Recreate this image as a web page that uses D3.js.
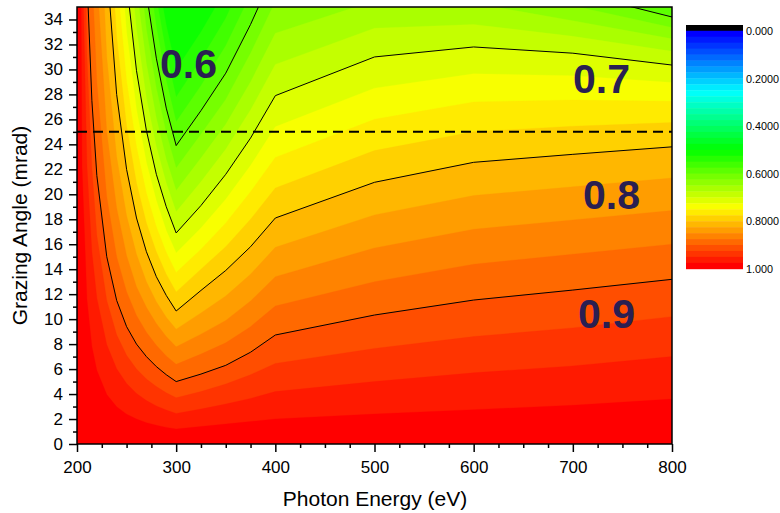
<!DOCTYPE html>
<html>
<head>
<meta charset="utf-8">
<script src="https://cdn.jsdelivr.net/npm/d3@7"></script>
<style>
  body { margin: 0; background: #fff; }
  text { font-family: "Liberation Sans", Arial, sans-serif; }
</style>
</head>
<body>
<svg id="chart" width="780" height="513"></svg>
<script>
// Photon energy nodes (eV) at which each reflectivity contour is sampled
const energies = [200, 205, 210, 215, 220, 230, 240, 250, 260, 270, 280, 290, 300, 325, 350, 375, 400, 500, 600, 700, 800];

// Grazing angle (mrad) at which reflectivity falls to the given level, per energy node
const r975 = [99, 22.3, 11.6, 7.8, 5.9, 3.96, 2.98, 2.39, 2.0, 1.71, 1.5, 1.33, 1.2, 1.4, 1.6, 1.8, 2.0, 2.4, 2.75, 3.1, 3.6];
const r950 = [99, 40.6, 22.3, 15.4, 11.7, 7.96, 6.03, 4.85, 4.05, 3.48, 3.05, 2.72, 2.45, 2.8, 3.2, 3.65, 4.2, 5.0, 5.7, 6.25, 7.0];
const r925 = [99, 53.2, 31.2, 22.1, 16.7, 11.5, 8.75, 7.1, 6.0, 5.2, 4.6, 4.1, 3.7, 4.2, 4.8, 5.55, 6.45, 7.65, 8.6, 9.3, 10.2];
const r900 = [99, 60, 37.5, 27.5, 21.5, 15.0, 11.5, 9.4, 8.0, 7.0, 6.2, 5.55, 5.0, 5.6, 6.3, 7.35, 8.73, 10.33, 11.53, 12.33, 13.19];
const r875 = [99, 94, 54, 38, 29.0, 19.8, 15.0, 12.2, 10.3, 8.95, 7.9, 7.05, 6.38, 7.2, 8.1, 9.4, 11.05, 13.0, 14.4, 15.2, 16.0];
const r850 = [99, 99, 76, 51, 37.5, 25.0, 18.9, 15.1, 12.6, 10.95, 9.65, 8.6, 7.78, 8.8, 9.9, 11.45, 13.4, 15.7, 17.2, 17.95, 18.7];
const r825 = [99, 99, 99, 66.7, 48, 31.0, 23.0, 18.3, 15.2, 13.0, 11.4, 10.15, 9.2, 10.5, 11.85, 13.6, 15.75, 18.35, 19.9, 20.6, 21.3];
const r800 = [99, 99, 99, 86.7, 61.1, 38.4, 28.0, 22.0, 18.1, 15.4, 13.4, 11.9, 10.65, 12.3, 13.9, 15.8, 18.1, 20.96, 22.56, 23.2, 23.8];
const r775 = [99, 99, 99, 99, 74.2, 45.4, 32.6, 25.5, 20.9, 17.7, 15.4, 13.6, 12.18, 14.0, 15.8, 18.0, 20.5, 23.5, 25.0, 25.45, 25.75];
const r750 = [99, 99, 99, 99, 89, 52.8, 37.5, 29.1, 23.8, 20.1, 17.4, 15.35, 13.73, 15.6, 17.7, 20.2, 22.95, 26.0, 27.4, 27.55, 27.45];
const r725 = [99, 99, 99, 99, 99, 61.3, 42.9, 33.0, 26.8, 22.55, 19.5, 17.1, 15.3, 17.3, 19.6, 22.3, 25.4, 28.5, 29.65, 29.5, 28.95];
const r700 = [99, 99, 99, 99, 99, 70.7, 48.6, 37.0, 29.9, 25.1, 21.6, 19.0, 16.9, 19.1, 21.6, 24.5, 27.9, 31.0, 31.8, 31.3, 30.35];
const r675 = [99, 99, 99, 99, 99, 80.3, 54.5, 41.2, 33.2, 27.7, 23.8, 20.9, 18.6, 21.0, 23.6, 26.75, 30.4, 33.3, 33.6, 32.65, 31.45];
const r650 = [99, 99, 99, 99, 99, 91.4, 60.9, 45.7, 36.5, 30.45, 26.1, 22.8, 20.3, 22.9, 25.6, 29.0, 32.9, 35.5, 35.3, 33.9, 32.45];
const r625 = [99, 99, 99, 99, 99, 99, 67.1, 50.1, 40.0, 33.2, 28.5, 24.9, 22.1, 24.8, 27.6, 31.3, 35.45, 37.6, 36.9, 35.1, 33.35];
const r600 = [99, 99, 99, 99, 99, 99, 74, 54.9, 43.6, 36.1, 30.9, 26.9, 23.9, 26.7, 29.7, 33.6, 38.0, 39.6, 38.4, 36.2, 34.2];
const r575 = [99, 99, 99, 99, 99, 99, 99, 59.5, 47.2, 39.1, 33.4, 29.1, 25.8, 28.7, 31.9, 36.0, 40.6, 41.5, 39.9, 37.2, 35.0];
const r550 = [99, 99, 99, 99, 99, 99, 99, 62.6, 50.1, 41.7, 35.75, 31.3, 27.8, 30.8, 34.1, 38.4, 43.2, 43.4, 41.3, 38.2, 35.8];
const r525 = [99, 99, 99, 99, 99, 99, 99, 63.7, 52.0, 43.95, 38.05, 33.55, 30.0, 33.0, 36.4, 40.8, 45.8, 45.3, 42.7, 39.2, 36.6];

// Filled levels, lowest first
const fillLevels = [0.525, 0.55, 0.575, 0.6, 0.625, 0.65, 0.675, 0.7, 0.725, 0.75, 0.775, 0.8, 0.825, 0.85, 0.875, 0.9, 0.925, 0.95, 0.975];
const fillAngles = [r525, r550, r575, r600, r625, r650, r675, r700, r725, r750, r775, r800, r825, r850, r875, r900, r925, r950, r975];

// Contours drawn as lines and their labels
const lineLevels = ["0.6", "0.7", "0.8", "0.9"];
const lineAngles = [r600, r700, r800, r900];
const labelSpots = [[160, 78], [573, 93], [583, 209], [578, 328]];

const xTicks = [200, 300, 400, 500, 600, 700, 800];
const yTicks = d3.range(0, 35, 2);
const barTicks = [0, 0.2, 0.4, 0.6, 0.8, 1.0];
const barTickText = ["0.000", "0.2000", "0.4000", "0.6000", "0.8000", "1.000"];
const referenceAngle = 25;

const nBands = 40;
const step = 1 / nBands;

const svg = d3.select("#chart");
const L = 77, R = 672, T = 7, B = 444;
const x = d3.scaleLinear().domain([200, 800]).range([L, R]);
const y = d3.scaleLinear().domain([0, 35]).range([B, T]);

const cmap = d3.scaleLinear()
  .domain([0, 0.25, 0.5, 0.75, 1])
  .range(["#0000ff", "#00ffff", "#00ff00", "#ffff00", "#ff0000"])
  .interpolate(d3.interpolateRgb);
const bandColor = j => cmap(j / (nBands - 1));

svg.append("defs").append("clipPath").attr("id", "plotClip")
  .append("rect").attr("x", L).attr("y", T).attr("width", R - L).attr("height", B - T);

const plot = svg.append("g").attr("clip-path", "url(#plotClip)");

// background = band just below the lowest filled level
plot.append("rect").attr("x", L).attr("y", T).attr("width", R - L).attr("height", B - T)
  .attr("fill", bandColor(Math.round(fillLevels[0] / step) - 1));

const area = d3.area()
  .x((d, i) => x(energies[i]))
  .y0(y(0))
  .y1(d => y(d));

fillLevels.forEach((lv, k) => {
  plot.append("path")
    .datum(fillAngles[k])
    .attr("d", area)
    .attr("fill", bandColor(Math.round(lv / step)))
    .attr("stroke", bandColor(Math.round(lv / step)))
    .attr("stroke-width", 0.3);
});

const line = d3.line()
  .x((d, i) => x(energies[i]))
  .y(d => y(d));

lineAngles.forEach(a => {
  plot.append("path").datum(a).attr("d", line)
    .attr("fill", "none").attr("stroke", "#000").attr("stroke-width", 1);
});

// reference grazing angle
plot.append("line")
  .attr("x1", L).attr("x2", R)
  .attr("y1", y(referenceAngle)).attr("y2", y(referenceAngle))
  .attr("stroke", "#000").attr("stroke-width", 2)
  .attr("stroke-dasharray", "10,6");

// contour labels
lineLevels.forEach((t, i) => {
  svg.append("text").attr("x", labelSpots[i][0]).attr("y", labelSpots[i][1])
    .attr("font-size", 41).attr("font-weight", "bold").attr("fill", "#2a1f52")
    .text(t);
});

// frame
svg.append("rect").attr("x", L).attr("y", T).attr("width", R - L).attr("height", B - T)
  .attr("fill", "none").attr("stroke", "#000").attr("stroke-width", 1.5);

// axes
svg.append("g").attr("transform", `translate(${L},0)`)
  .call(d3.axisLeft(y).tickValues(yTicks).tickSize(8).tickPadding(6).tickFormat(d3.format("d")));
svg.append("g").attr("transform", `translate(${L},0)`)
  .call(d3.axisLeft(y).tickValues(d3.range(1, 35, 2)).tickSize(4).tickFormat(""));
svg.append("g").attr("transform", `translate(0,${B})`)
  .call(d3.axisBottom(x).tickValues(xTicks).tickSize(8).tickPadding(9).tickFormat(d3.format("d")));
svg.append("g").attr("transform", `translate(0,${B})`)
  .call(d3.axisBottom(x).tickValues(d3.range(225, 800, 25).filter(v => v % 100 !== 0)).tickSize(4).tickFormat(""));

svg.selectAll(".domain").remove();
svg.selectAll(".tick line").attr("stroke", "#000").attr("stroke-width", 1.5);
svg.selectAll(".tick text").attr("font-size", 17).attr("fill", "#000")
  .style("font-family", "'Liberation Sans', Arial, sans-serif");

svg.append("text").attr("x", 375).attr("y", 506).attr("text-anchor", "middle")
  .attr("font-size", 21).text("Photon Energy (eV)");
svg.append("text").attr("transform", `translate(27,${(T + B) / 2}) rotate(-90)`)
  .attr("text-anchor", "middle").attr("font-size", 21).text("Grazing Angle (mrad)");

// colour scale bar
const barX = 686, barW = 57, barTop = 25, barBot = 269;
const bandH = (barBot - barTop) / (nBands + 1);
const barY = d3.scaleLinear().domain([0, 1]).range([barTop + bandH, barBot]);
svg.append("rect").attr("x", barX).attr("y", barTop).attr("width", barW).attr("height", bandH + 0.5).attr("fill", "#000");
d3.range(nBands).forEach(j => {
  svg.append("rect").attr("x", barX).attr("y", barY(j * step) - 0.2)
    .attr("width", barW).attr("height", barY((j + 1) * step) - barY(j * step) + 0.4)
    .attr("fill", bandColor(j));
});
barTicks.forEach((v, i) => {
  svg.append("text").attr("x", barX + barW + 3).attr("y", barY(v) + 4)
    .attr("font-size", 10.8).attr("fill", "#000").text(barTickText[i]);
});
</script>
</body>
</html>
